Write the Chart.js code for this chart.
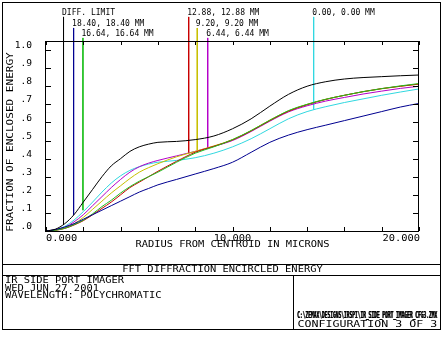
<!DOCTYPE html>
<html><head><meta charset="utf-8">
<script src="https://cdn.jsdelivr.net/npm/chart.js@4/dist/chart.umd.min.js"></script>
<style>html,body{margin:0;padding:0;background:#fff;}canvas{display:block;}</style>
</head><body>
<canvas id="c" width="442" height="342"></canvas>
<script>
// ---- data ----
const radius = [0,0.5,1,1.5,2,2.5,3,3.5,4,4.5,5,5.5,6,7,8,9,10,11,12,13,14,15,16,17,18,19,20];
const diffLimit = [0,0.01,0.04,0.09,0.16,0.23,0.30,0.36,0.40,0.44,0.465,0.48,0.49,0.495,0.505,0.525,0.565,0.62,0.69,0.755,0.80,0.825,0.84,0.848,0.853,0.858,0.862];
const field1840 = [0,0.008,0.022,0.04,0.065,0.09,0.115,0.14,0.165,0.19,0.215,0.235,0.255,0.285,0.315,0.345,0.38,0.435,0.49,0.53,0.56,0.585,0.61,0.635,0.66,0.685,0.705];
const field1664 = [0,0.004,0.015,0.035,0.06,0.095,0.135,0.17,0.21,0.245,0.275,0.30,0.325,0.38,0.43,0.465,0.505,0.555,0.612,0.665,0.70,0.728,0.75,0.77,0.787,0.802,0.815];
const field1288 = [0,0.004,0.014,0.033,0.057,0.09,0.125,0.16,0.20,0.24,0.27,0.30,0.33,0.385,0.435,0.468,0.503,0.553,0.61,0.662,0.698,0.727,0.75,0.77,0.787,0.80,0.812];
const field920  = [0,0.005,0.018,0.04,0.075,0.12,0.165,0.21,0.25,0.29,0.325,0.35,0.372,0.41,0.44,0.47,0.505,0.555,0.613,0.664,0.70,0.728,0.75,0.77,0.786,0.80,0.812];
const field644  = [0,0.006,0.02,0.05,0.09,0.14,0.19,0.24,0.285,0.325,0.355,0.375,0.39,0.415,0.44,0.468,0.50,0.55,0.607,0.658,0.692,0.718,0.738,0.757,0.773,0.788,0.80];
const field000  = [0,0.006,0.025,0.06,0.107,0.16,0.215,0.265,0.305,0.335,0.355,0.37,0.38,0.39,0.405,0.43,0.465,0.51,0.565,0.62,0.66,0.687,0.71,0.73,0.75,0.768,0.785];

const seriesNames = ["DIFF. LIMIT","18.40, 18.40 MM","16.64, 16.64 MM","12.88, 12.88 MM","9.20, 9.20 MM","6.44, 6.44 MM","0.00, 0.00 MM"];
const seriesColors = ["#000000","#000090","#20c020","#c80000","#c8c000","#b400c8","#30d8e0"];
// leader marker lines: x position, top value, bottom value
const markerX   = [0.94,1.48,1.98,7.65,8.11,8.67,14.35];
const markerTop = [1.183,1.122,1.067,1.183,1.122,1.067,1.183];
const markerEnd = [0.033,0.088,0.115,0.43,0.447,0.457,0.672];

const yTickValues = [0,0.1,0.2,0.3,0.4,0.5,0.6,0.7,0.8,0.9,1.0];
const yTickLabels = [".0",".1",".2",".3",".4",".5",".6",".7",".8",".9","1.0"];
const xTickValues = [0,2,4,6,8,10,12,14,16,18,20];
const xTickLabels = ["0.000","","","","","10.000","","","","","20.000"];

const allSeries = [diffLimit, field1840, field1664, field1288, field920, field644, field000];

const datasets = [];
allSeries.forEach((s,i)=>{
  datasets.push({
    data: radius.map((r,j)=>({x:r,y:s[j]})),
    borderColor: seriesColors[i], borderWidth: 1, pointRadius: 0,
    cubicInterpolationMode: 'monotone', fill:false
  });
});
markerX.forEach((mx,i)=>{
  datasets.push({
    data: [{x:mx,y:markerTop[i]},{x:mx,y:markerEnd[i]}],
    borderColor: seriesColors[i], borderWidth: 1, pointRadius: 0, clip: false, fill:false
  });
});

function txt(ctx, s, x, y, size, sx, align, rot){
  ctx.save();
  ctx.translate(x,y);
  if (rot) ctx.rotate(rot);
  ctx.scale(sx,1);
  ctx.font = size + "px 'DejaVu Sans Mono'";
  ctx.textAlign = align || 'left';
  ctx.textBaseline = 'middle';
  ctx.fillStyle = '#000';
  ctx.fillText(s,0,0);
  ctx.restore();
}

const deco = {
  id:'deco',
  beforeDraw(chart){
    const ctx = chart.ctx;
    ctx.save(); ctx.fillStyle='#fff'; ctx.fillRect(0,0,chart.width,chart.height); ctx.restore();
  },
  afterDraw(chart){
    const ctx = chart.ctx, a = chart.chartArea;
    const xs = chart.scales.x, ys = chart.scales.y;
    ctx.save();
    ctx.strokeStyle = '#000'; ctx.lineWidth = 1;
    // plot frame
    ctx.strokeRect(a.left-0.5, a.top+0.5, a.right-a.left, a.bottom-a.top);
    // ticks (inward)
    ctx.beginPath();
    yTickValues.forEach(v=>{
      const p = Math.round(ys.getPixelForValue(v))+0.5;
      ctx.moveTo(a.left, p); ctx.lineTo(a.left+5, p);
      ctx.moveTo(a.right-1, p); ctx.lineTo(a.right-6, p);
    });
    xTickValues.forEach(v=>{
      const p = Math.round(xs.getPixelForValue(v))+0.5;
      ctx.moveTo(p, a.top); ctx.lineTo(p, a.top+4);
      ctx.moveTo(p, a.bottom); ctx.lineTo(p, a.bottom-4);
    });
    ctx.stroke();
    // tick labels
    yTickValues.forEach((v,i)=>{
      txt(ctx, yTickLabels[i], 32, ys.getPixelForValue(v)-4, 8, 1.2, 'right');
    });
    xTickValues.forEach((v,i)=>{
      if (!xTickLabels[i]) return;
      const al = i===0 ? 'left' : (i===xTickValues.length-1 ? 'right' : 'center');
      txt(ctx, xTickLabels[i], xs.getPixelForValue(v) + (al==='right'?1:0), 238.5, 8, 1.3, al);
    });
    // axis titles
    txt(ctx, "RADIUS FROM CENTROID IN MICRONS", (a.left+a.right)/2, 244.5, 8, 1.3, 'center');
    txt(ctx, "FRACTION OF ENCLOSED ENERGY", 10.5, 142, 8, 1.38, 'center', -Math.PI/2);
    // marker labels
    const labelY = [13,24,34,13,24,34,13];
    markerX.forEach((mx,i)=>{
      txt(ctx, seriesNames[i], xs.getPixelForValue(mx)-1.5, labelY[i], 8, 1.0, 'left');
    });
    // outer frame and info boxes
    ctx.strokeRect(2.5, 2.5, 438, 327);
    ctx.beginPath();
    ctx.moveTo(2.5, 264.5); ctx.lineTo(440.5, 264.5);
    ctx.moveTo(2.5, 275.5); ctx.lineTo(440.5, 275.5);
    ctx.moveTo(293.5, 275.5); ctx.lineTo(293.5, 329.5);
    ctx.stroke();
    txt(ctx, "FFT DIFFRACTION ENCIRCLED ENERGY", 222.5, 269.8, 8, 1.3, 'center');
    txt(ctx, "IR SIDE PORT IMAGER", 5, 281, 8, 1.3, 'left');
    txt(ctx, "WED JUN 27 2001", 5, 288.5, 8, 1.3, 'left');
    txt(ctx, "WAVELENGTH: POLYCHROMATIC", 5, 296, 8, 1.3, 'left');
    // compressed file path (illegible in original)
    ctx.font = "bold 9px 'DejaVu Sans Mono'";
    ctx.textBaseline = 'middle'; ctx.textAlign='left'; ctx.fillStyle='#000';
    const path = "C:\\ZEMAX\\DESIGNS\\IRSPI\\IR_SIDE_PORT_IMAGER_CFG3.ZMX";
    ctx.fillText(path, 297, 316, 140);
    ctx.fillText(path, 297.6, 316, 140);
    txt(ctx, "CONFIGURATION 3 OF 3", 297.5, 324.5, 8, 1.45, 'left');
    ctx.restore();
  }
};

new Chart(document.getElementById('c'), {
  type: 'line',
  data: { datasets },
  options: {
    responsive:false, animation:false, devicePixelRatio:1,
    layout:{ padding:{ top:41, right:23, left:0, bottom:0 } },
    plugins:{ legend:{display:false}, tooltip:{enabled:false} },
    elements:{ line:{ tension:0 } },
    scales:{
      x:{ type:'linear', min:0, max:20,
          grid:{display:false}, border:{display:false}, ticks:{display:false},
          afterFit(s){ s.height = 111; } },
      y:{ type:'linear', min:0, max:1.05,
          grid:{display:false}, border:{display:false}, ticks:{display:false},
          afterFit(s){ s.width = 46; } }
    }
  },
  plugins:[deco]
});
</script>
</body></html>
